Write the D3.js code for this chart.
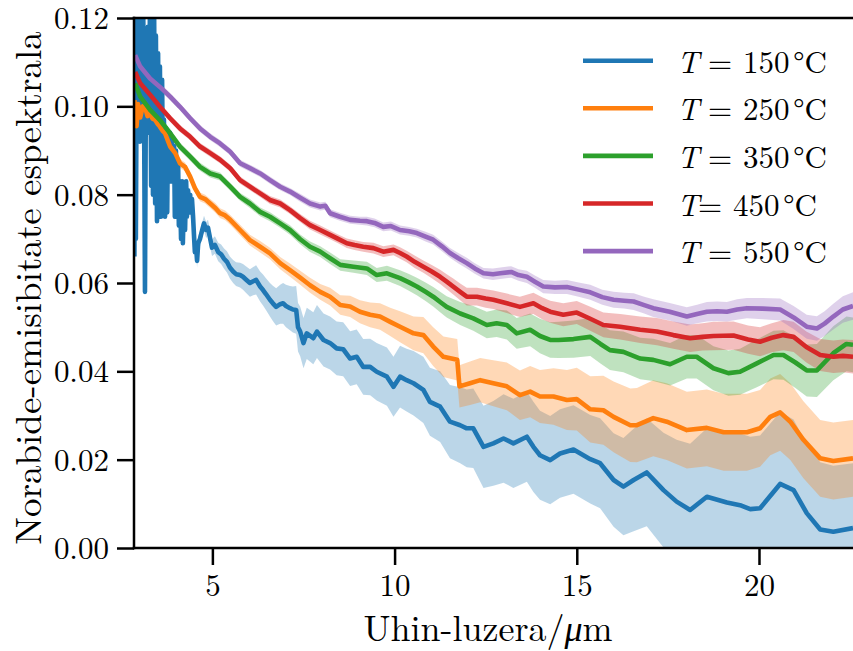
<!DOCTYPE html>
<html>
<head>
<meta charset="utf-8">
<script src="https://cdn.jsdelivr.net/npm/d3@7"></script>
<style>
  html, body { margin: 0; padding: 0; background: #fff; }
  svg { display: block; }
  text { font-family: "Latin Modern Roman", "Liberation Serif", serif; fill: #000; }
</style>
</head>
<body>
<svg id="chart" width="853" height="651"></svg>
<script>
// ---------------- DATA (wavelength µm, mean emissivity, std) ----------------
const series150 = [[2.86,.066,.0015],[2.88,.125,.0015],[2.90,.070,.0015],[2.93,.122,.0015],[2.96,.094,.0015],[2.99,.121,.0015],[3.01,.092,.0015],[3.04,.119,.0015],[3.07,.095,.0015],[3.10,.122,.0015],[3.12,.108,.0015],[3.15,.058,.0015],[3.18,.112,.0015],[3.21,.094,.0015],[3.23,.118,.0015],[3.26,.096,.0015],[3.29,.125,.0015],[3.32,.082,.0015],[3.34,.124,.0015],[3.37,.080,.0015],[3.40,.123,.0015],[3.43,.078,.0015],[3.45,.116,.0015],[3.48,.074,.0015],[3.51,.112,.0015],[3.54,.076,.0015],[3.56,.109,.0015],[3.59,.075,.0015],[3.62,.106,.0015],[3.65,.078,.0015],[3.67,.097,.0015],[3.70,.075,.0015],[3.73,.095,.0015],[3.76,.076,.0015],[3.78,.093,.0015],[3.81,.086,.0015],[3.84,.094,.0015],[3.87,.083,.0015],[3.89,.093,.0015],[3.92,.084,.0015],[3.95,.091,.0015],[3.97,.075,.0015],[4.00,.090,.0015],[4.03,.076,.0015],[4.06,.087,.0015],[4.08,.073,.0015],[4.11,.083,.0015],[4.14,.070,.0015],[4.17,.083,.0015],[4.19,.069,.0015],[4.22,.081,.0015],[4.25,.072,.0015],[4.28,.083,.0015],[4.30,.075,.0015],[4.33,.081,.0015],[4.36,.078,.0015],[4.39,.080,.0015],[4.41,.076,.0015],[4.44,.079,.0015],[4.47,.075,.0015],[4.50,.070,.0016],[4.52,.067,.0016],[4.55,.069,.0016],[4.58,.065,.0016],[4.61,.069,.0016],[4.66,.070,.0017],[4.72,.072,.0017],[4.77,.0735,.0017],[4.83,.072,.0018],[4.88,.0725,.0018],[4.94,.070,.0019],[4.99,.068,.0019],[5.07,.0686,.0020],[5.16,.0670,.0021],[5.24,.0665,.0022],[5.32,.0655,.0023],[5.40,.0648,.0024],[5.48,.0635,.0025],[5.57,.0626,.0026],[5.65,.0620,.0027],[5.76,.0618,.0028],[5.84,.0614,.0029],[5.92,.0608,.0030],[6.03,.0600,.0031],[6.12,.0604,.0032],[6.20,.0607,.0033],[6.31,.0592,.0034],[6.39,.0584,.0035],[6.47,.0575,.0036],[6.58,.0562,.0038],[6.66,.0554,.0040],[6.75,.0546,.0042],[6.86,.0552,.0044],[6.94,.0554,.0046],[7.02,.0548,.0048],[7.13,.0543,.0050],[7.21,.0540,.0052],[7.30,.0539,.0054],[7.35,.0500,.0055],[7.41,.0490,.0056],[7.50,.0464,.0057],[7.59,.0486,.0058],[7.77,.0475,.0059],[7.87,.0490,.0060],[8.05,.0471,.0060],[8.23,.0464,.0060],[8.41,.0452,.0061],[8.59,.0450,.0061],[8.78,.0429,.0062],[8.96,.0433,.0062],[9.14,.0410,.0063],[9.33,.0410,.0064],[9.51,.0399,.0065],[9.79,.0388,.0066],[9.97,.0365,.0068],[10.15,.0388,.0070],[10.33,.0380,.0071],[10.52,.0373,.0073],[10.79,.0358,.0075],[10.97,.0331,.0077],[11.25,.0320,.0080],[11.52,.0286,.0083],[11.80,.0278,.0086],[11.98,.0271,.0088],[12.16,.0271,.0090],[12.44,.0229,.0093],[12.71,.0237,.0096],[12.99,.0248,.0100],[13.26,.0237,.0101],[13.63,.0252,.0102],[13.81,.0229,.0102],[13.99,.0210,.0101],[14.27,.0199,.0100],[14.54,.0214,.0100],[14.91,.0223,.0100],[15.37,.0201,.0100],[15.64,.0192,.0102],[16.01,.0154,.0106],[16.28,.0139,.0110],[16.56,.0154,.0116],[16.92,.0171,.0122],[17.38,.0131,.0130],[17.74,.0105,.0140],[18.11,.0086,.0150],[18.57,.0116,.0155],[19.12,.0103,.0160],[19.48,.0097,.0162],[19.76,.0088,.0164],[20.03,.0090,.0165],[20.58,.0145,.0163],[20.95,.0131,.0160],[21.31,.0079,.0156],[21.68,.0042,.0152],[22.04,.0037,.0149],[22.58,.0045,.0147]];

const series250 = [[2.86,.1014,.0010],[2.92,.0955,.0010],[2.96,.1005,.0010],[3.02,.0975,.0010],[3.09,.1000,.0010],[3.16,.0996,.0010],[3.22,.0978,.0010],[3.29,.0984,.0010],[3.36,.0972,.0010],[3.43,.0969,.0010],[3.50,.0960,.0010],[3.56,.0954,.0010],[3.63,.0945,.0010],[3.70,.0939,.0010],[3.84,.0909,.0010],[3.98,.0894,.0010],[4.11,.0871,.0010],[4.25,.0863,.0010],[4.39,.0841,.0010],[4.52,.0815,.0010],[4.66,.0795,.0010],[4.80,.0790,.0010],[4.94,.0780,.0010],[5.08,.0770,.0011],[5.21,.0758,.0011],[5.35,.0753,.0011],[5.49,.0743,.0011],[5.76,.0720,.0012],[6.03,.0697,.0012],[6.31,.0682,.0013],[6.58,.0667,.0013],[6.86,.0645,.0014],[7.13,.0629,.0015],[7.41,.0612,.0016],[7.68,.0595,.0017],[7.96,.0580,.0018],[8.23,.0569,.0020],[8.51,.0550,.0022],[8.78,.0547,.0024],[9.05,.0535,.0026],[9.33,.0528,.0028],[9.60,.0524,.0030],[9.88,.0512,.0032],[10.15,.0501,.0035],[10.52,.0486,.0038],[10.79,.0482,.0041],[11.06,.0456,.0044],[11.34,.0433,.0046],[11.72,.0426,.0047],[11.78,.0366,.0048],[12.07,.0373,.0049],[12.35,.0380,.0050],[12.71,.0373,.0052],[13.08,.0366,.0054],[13.44,.0346,.0056],[13.72,.0354,.0058],[13.99,.0343,.0060],[14.36,.0343,.0064],[14.73,.0335,.0068],[15.00,.0337,.0071],[15.37,.0314,.0075],[15.73,.0312,.0078],[16.01,.0297,.0080],[16.47,.0278,.0083],[16.65,.0278,.0084],[17.10,.0294,.0086],[17.47,.0286,.0087],[18.02,.0267,.0087],[18.57,.0272,.0087],[19.03,.0262,.0087],[19.67,.0262,.0087],[20.03,.0271,.0087],[20.31,.0297,.0087],[20.58,.0307,.0087],[20.86,.0286,.0087],[21.22,.0245,.0087],[21.68,.0203,.0087],[22.04,.0197,.0087],[22.58,.0203,.0087]];

const series350 = [[2.88,.1052,.0009],[3.02,.1022,.0009],[3.29,.0992,.0009],[3.56,.0969,.0009],[3.84,.0939,.0009],[4.11,.0909,.0009],[4.39,.0886,.0009],[4.66,.0863,.0009],[4.94,.0848,.0009],[5.21,.0841,.0009],[5.49,.0818,.0009],[5.76,.0795,.0009],[6.03,.0780,.0010],[6.31,.0761,.0010],[6.58,.0750,.0010],[6.86,.0735,.0010],[7.13,.0720,.0011],[7.41,.0699,.0011],[7.68,.0682,.0012],[7.96,.0671,.0012],[8.23,.0656,.0013],[8.51,.0641,.0013],[8.87,.0637,.0014],[9.24,.0633,.0015],[9.51,.0618,.0016],[9.79,.0622,.0017],[10.15,.0611,.0018],[10.38,.0602,.0019],[10.61,.0592,.0020],[10.85,.0580,.0021],[11.06,.0569,.0022],[11.25,.0557,.0023],[11.43,.0546,.0024],[11.80,.0531,.0026],[12.16,.0520,.0028],[12.53,.0505,.0030],[12.80,.0509,.0031],[13.08,.0505,.0033],[13.35,.0486,.0035],[13.72,.0494,.0037],[13.99,.0480,.0039],[14.27,.0471,.0040],[14.50,.0471,.0041],[14.91,.0473,.0042],[15.37,.0478,.0043],[15.65,.0462,.0044],[15.91,.0448,.0045],[16.28,.0444,.0046],[16.74,.0429,.0047],[17.10,.0426,.0048],[17.56,.0416,.0048],[18.02,.0433,.0049],[18.29,.0433,.0049],[18.75,.0407,.0050],[19.16,.0396,.0051],[19.48,.0399,.0052],[19.94,.0418,.0054],[20.40,.0437,.0055],[20.67,.0437,.0056],[21.00,.0420,.0058],[21.31,.0402,.0059],[21.59,.0402,.0060],[22.04,.0441,.0061],[22.40,.0462,.0062],[22.58,.0460,.0062]];

const series450 = [[2.88,.1078,.0008],[3.02,.1052,.0008],[3.29,.1026,.0008],[3.56,.0999,.0008],[3.84,.0973,.0008],[4.11,.0950,.0008],[4.39,.0931,.0008],[4.66,.0909,.0008],[4.94,.0894,.0008],[5.21,.0879,.0008],[5.49,.0860,.0008],[5.76,.0833,.0008],[6.03,.0818,.0008],[6.31,.0803,.0008],[6.58,.0788,.0009],[6.86,.0780,.0009],[7.13,.0765,.0009],[7.41,.0747,.0009],[7.68,.0731,.0010],[7.96,.0720,.0010],[8.23,.0709,.0010],[8.45,.0700,.0010],[8.69,.0690,.0011],[8.90,.0686,.0011],[9.14,.0682,.0011],[9.42,.0679,.0012],[9.69,.0671,.0012],[9.97,.0675,.0012],[10.15,.0668,.0013],[10.33,.0660,.0013],[10.55,.0648,.0014],[10.79,.0637,.0014],[11.02,.0626,.0015],[11.25,.0614,.0016],[11.43,.0603,.0017],[11.61,.0592,.0018],[11.80,.0580,.0019],[11.98,.0569,.0020],[12.26,.0569,.0020],[12.50,.0565,.0021],[12.71,.0562,.0021],[13.08,.0554,.0022],[13.44,.0546,.0023],[13.81,.0554,.0024],[14.05,.0543,.0025],[14.27,.0535,.0025],[14.63,.0528,.0026],[15.00,.0533,.0026],[15.37,.0519,.0027],[15.73,.0505,.0028],[16.19,.0501,.0029],[16.74,.0494,.0030],[17.20,.0490,.0031],[17.65,.0482,.0031],[18.11,.0475,.0031],[18.45,.0478,.0031],[18.75,.0480,.0032],[19.30,.0481,.0032],[19.70,.0472,.0032],[20.03,.0467,.0033],[20.35,.0476,.0033],[20.67,.0482,.0034],[20.95,.0478,.0034],[21.30,.0455,.0035],[21.68,.0437,.0036],[22.04,.0433,.0037],[22.30,.0435,.0037],[22.58,.0433,.0038]];

const series550 = [[2.88,.1116,.0008],[3.02,.1090,.0008],[3.29,.1063,.0008],[3.56,.1044,.0008],[3.84,.1022,.0008],[4.11,.0999,.0008],[4.39,.0973,.0008],[4.66,.0950,.0008],[4.94,.0931,.0008],[5.21,.0916,.0008],[5.49,.0897,.0008],[5.76,.0871,.0008],[6.03,.0860,.0008],[6.31,.0848,.0008],[6.58,.0833,.0008],[6.86,.0818,.0008],[7.13,.0807,.0008],[7.41,.0793,.0009],[7.68,.0780,.0009],[7.96,.0773,.0009],[8.10,.0775,.0009],[8.23,.0758,.0009],[8.50,.0750,.0009],[8.78,.0743,.0009],[9.05,.0741,.0009],[9.24,.0740,.0010],[9.45,.0736,.0010],[9.69,.0727,.0010],[9.90,.0729,.0010],[10.15,.0720,.0010],[10.40,.0717,.0010],[10.61,.0713,.0010],[10.85,.0705,.0011],[11.06,.0698,.0011],[11.30,.0683,.0011],[11.52,.0668,.0011],[11.75,.0656,.0012],[11.98,.0645,.0012],[12.20,.0633,.0012],[12.44,.0622,.0012],[12.70,.0620,.0013],[12.90,.0622,.0013],[13.20,.0625,.0013],[13.40,.0618,.0013],[13.63,.0614,.0014],[13.85,.0603,.0014],[14.08,.0592,.0015],[14.40,.0590,.0015],[14.73,.0591,.0016],[15.05,.0585,.0016],[15.37,.0579,.0017],[15.70,.0568,.0017],[16.01,.0562,.0018],[16.30,.0560,.0018],[16.56,.0558,.0019],[16.85,.0550,.0019],[17.10,.0543,.0020],[17.55,.0535,.0020],[18.02,.0524,.0021],[18.30,.0530,.0021],[18.57,.0535,.0022],[18.85,.0536,.0022],[19.12,.0535,.0022],[19.40,.0540,.0023],[19.67,.0543,.0023],[20.10,.0542,.0024],[20.58,.0540,.0025],[20.95,.0522,.0026],[21.31,.0501,.0027],[21.59,.0497,.0028],[21.80,.0508,.0028],[22.04,.0524,.0029],[22.30,.0540,.0030],[22.58,.0548,.0031]];

const seriesNames = ["150", "250", "350", "450", "550"];
const seriesColors = ["#1f77b4", "#ff7f0e", "#2ca02c", "#d62728", "#9467bd"];
const legendTight = [false, false, false, true, false];   // "T= 450 °C" has no space before "="
const xTicks = [5, 10, 15, 20];
const yTicks = [0, 0.02, 0.04, 0.06, 0.08, 0.10, 0.12];
const xLabel = "Uhin-luzera/";
const yLabel = "Norabide-emisibitate espektrala";
const allSeries = [series150, series250, series350, series450, series550];

// ---------------- LAYOUT ----------------
const SERIF = '"Latin Modern Roman", "Liberation Serif", serif';
const TICKFS = "31px";
const L = 134, R = 853, T = 18, B = 548;
const svg = d3.select("#chart");
const x = d3.scaleLinear().domain([2.849, 22.58]).range([L, R]);
const y = d3.scaleLinear().domain([0, 0.12]).range([B, T]);

svg.append("defs").append("clipPath").attr("id", "plotclip")
  .append("rect").attr("x", L).attr("y", T).attr("width", R - L).attr("height", B - T);

const plot = svg.append("g").attr("clip-path", "url(#plotclip)");

const area = d3.area()
  .x(d => x(d[0]))
  .y0(d => y(d[1] - d[2]))
  .y1(d => y(d[1] + d[2]));
const line = d3.line().x(d => x(d[0])).y(d => y(d[1]));

allSeries.forEach((s, i) => {
  plot.append("path").datum(s).attr("d", area)
    .attr("fill", seriesColors[i]).attr("fill-opacity", 0.3).attr("stroke", "none");
});
allSeries.forEach((s, i) => {
  plot.append("path").datum(s).attr("d", line)
    .attr("fill", "none").attr("stroke", seriesColors[i])
    .attr("stroke-width", 4.6).attr("stroke-linejoin", "round").attr("stroke-linecap", "butt");
});

// ---------------- AXES ----------------
const xAxis = svg.append("g").attr("transform", `translate(0,${B})`)
  .call(d3.axisBottom(x).tickValues(xTicks).tickSize(17).tickFormat(d3.format("d")))
  .attr("font-family", SERIF).attr("font-size", 31);
xAxis.select(".domain").remove();
xAxis.selectAll(".tick line").attr("stroke", "#000").attr("stroke-width", 2.5);
xAxis.selectAll(".tick text").attr("y", 48).attr("dy", 0)
  .style("font-family", SERIF).style("font-size", TICKFS).attr("fill", "#000");

const yAxis = svg.append("g").attr("transform", `translate(${L},0)`)
  .call(d3.axisLeft(y).tickValues(yTicks).tickSize(17).tickFormat(d3.format(".2f")))
  .attr("font-family", SERIF).attr("font-size", 31);
yAxis.select(".domain").remove();
yAxis.selectAll(".tick line").attr("stroke", "#000").attr("stroke-width", 2.5);
yAxis.selectAll(".tick text").attr("x", -25).attr("dy", "0.34em")
  .style("font-family", SERIF).style("font-size", TICKFS).attr("fill", "#000");

// spines
svg.append("line").attr("x1", L).attr("x2", L).attr("y1", T - 1.25).attr("y2", B + 1.25)
  .attr("stroke", "#000").attr("stroke-width", 2.5);
svg.append("line").attr("x1", L - 1.25).attr("x2", R + 5).attr("y1", B).attr("y2", B)
  .attr("stroke", "#000").attr("stroke-width", 2.5);
svg.append("line").attr("x1", L - 1.25).attr("x2", R + 5).attr("y1", T).attr("y2", T)
  .attr("stroke", "#000").attr("stroke-width", 2.5);

// axis labels
const xl = svg.append("text").attr("x", 488).attr("y", 641).attr("text-anchor", "middle")
  .style("font-family", SERIF).style("font-size", "36px");
xl.append("tspan").text(xLabel);
xl.append("tspan").style("font-style", "italic").text("μ");
xl.append("tspan").text("m");

svg.append("text").attr("transform", "translate(41,288) rotate(-90)")
  .attr("text-anchor", "middle").style("font-family", SERIF).style("font-size", "37px").text(yLabel);

// ---------------- LEGEND ----------------
const leg = svg.append("g");
seriesNames.forEach((n, i) => {
  const ly = 60.7 + i * 47.6;
  const off = legendTight[i] ? -10 : 0;
  leg.append("line").attr("x1", 583).attr("x2", 653).attr("y1", ly).attr("y2", ly)
    .attr("stroke", seriesColors[i]).attr("stroke-width", 4.6);
  const t = leg.append("text").attr("y", ly + 12)
    .style("font-family", SERIF).style("font-size", "31px");
  t.append("tspan").attr("x", 677).style("font-style", "italic").text("T");
  t.append("tspan").attr("x", 708 + off).text("=");
  t.append("tspan").attr("x", 743 + off).text(n);
  t.append("tspan").attr("x", 793 + off).text("°C");
});
</script>
</body>
</html>
